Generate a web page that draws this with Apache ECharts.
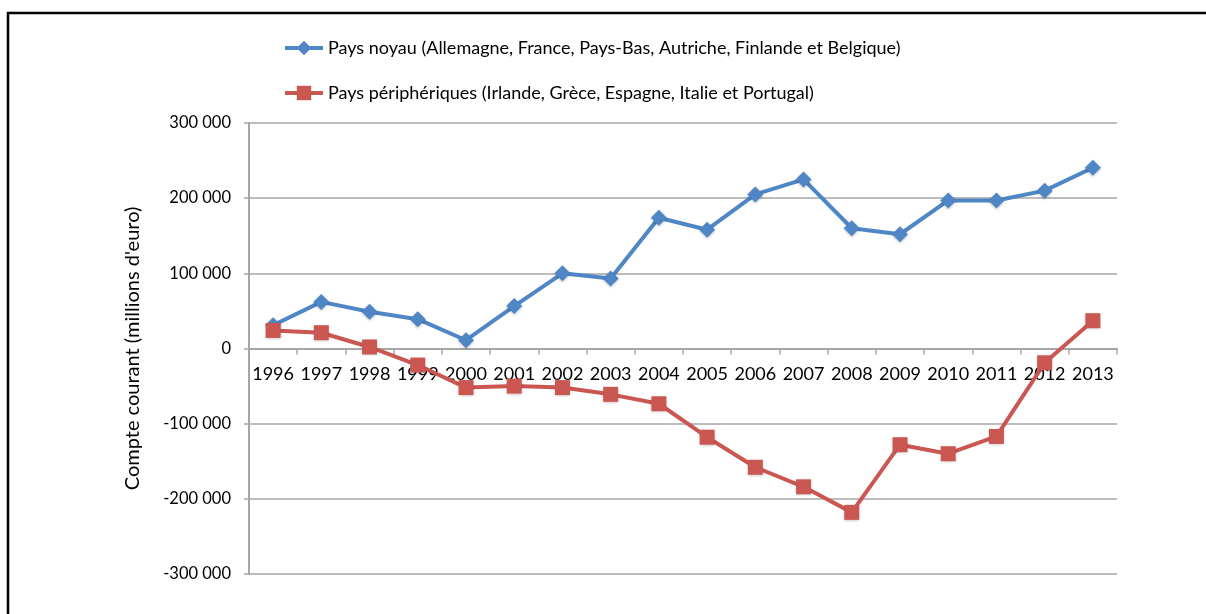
<!DOCTYPE html>
<html>
<head>
<meta charset="utf-8">
<script src="https://cdn.jsdelivr.net/npm/echarts@6/dist/echarts.min.js"></script>
<style>
html,body{margin:0;padding:0;background:#fff;}
#chart{width:1206px;height:614px;}
</style>
</head>
<body>
<div id="chart"></div>
<script>
var years = ['1996','1997','1998','1999','2000','2001','2002','2003','2004','2005','2006','2007','2008','2009','2010','2011','2012','2013'];
var noyau = [31000, 62000, 49000, 39000, 11000, 56500, 100000, 93000, 174000, 158000, 205000, 225000, 160000, 152000, 197000, 197000, 210000, 240500];
var peripheriques = [24000, 21000, 2000, -22000, -52000, -50000, -52000, -61000, -73500, -118000, -158000, -184000, -218000, -128000, -140000, -117000, -19000, 37000];
var nameNoyau = 'Pays noyau (Allemagne, France, Pays-Bas, Autriche, Finlande et Belgique)';
var namePeri = 'Pays périphériques (Irlande, Grèce, Espagne, Italie et Portugal)';
var yTitle = "Compte courant (millions d'euro)";

var FONT = 'Lato';
var chart = echarts.init(document.getElementById('chart'));
function fmt(v){
  var s = Math.abs(v).toString().replace(/\B(?=(\d{3})+(?!\d))/g, ' ');
  return (v < 0 ? '-' : '') + s;
}
var blue = '#4F86C6', red = '#CB5753';
var legendCommon = {
  left: 283, itemWidth: 38, itemHeight: 18, itemGap: 6, padding: 0,
  textStyle: {fontFamily: FONT, fontSize: 18, lineHeight: 18, color: '#000'},
  lineStyle: {width: 4}
};
chart.setOption({
  animation: false,
  textStyle: {fontFamily: FONT},
  graphic: [{
    type: 'rect', shape: {x: 8, y: 13, width: 1400, height: 1000},
    style: {fill: 'none', stroke: '#000', lineWidth: 2.5}, silent: true
  }],
  legend: [
    Object.assign({data: [nameNoyau], top: 39}, legendCommon),
    Object.assign({data: [namePeri], top: 84}, legendCommon)
  ],
  grid: {left: 249, right: 89, top: 123, height: 451, containLabel: false},
  xAxis: {
    type: 'category', data: years, boundaryGap: true,
    offset: -225.5,
    axisLine: {onZero: false, lineStyle: {color: '#A6A6A6', width: 2}},
    axisTick: {show: true, length: 6, lineStyle: {color: '#A6A6A6', width: 1.5}},
    axisLabel: {color: '#000', fontSize: 18, margin: 17, fontFamily: FONT, interval: 0}
  },
  yAxis: {
    type: 'value', min: -300000, max: 300000, interval: 100000,
    name: yTitle, nameLocation: 'middle', nameRotate: 90, nameGap: 106,
    nameTextStyle: {color: '#000', fontSize: 20, fontFamily: FONT},
    axisLine: {show: true, lineStyle: {color: '#A6A6A6', width: 2}},
    axisTick: {show: true, length: 5, lineStyle: {color: '#A6A6A6', width: 1.5}},
    axisLabel: {color: '#000', fontSize: 16.5, margin: 18, fontFamily: FONT, formatter: fmt},
    splitLine: {show: true, lineStyle: {color: '#A6A6A6', width: 1.5}}
  },
  series: [{
    name: nameNoyau, type: 'line', data: noyau,
    symbol: 'diamond', symbolSize: 16,
    lineStyle: {color: blue, width: 4},
    itemStyle: {color: blue, shadowColor: 'rgba(0,0,0,0.25)', shadowBlur: 3, shadowOffsetY: 1}
  },{
    name: namePeri, type: 'line', data: peripheriques,
    symbol: 'rect', symbolSize: 15,
    lineStyle: {color: red, width: 4},
    itemStyle: {color: red, shadowColor: 'rgba(0,0,0,0.25)', shadowBlur: 3, shadowOffsetY: 1}
  }]
});
</script>
</body>
</html>
